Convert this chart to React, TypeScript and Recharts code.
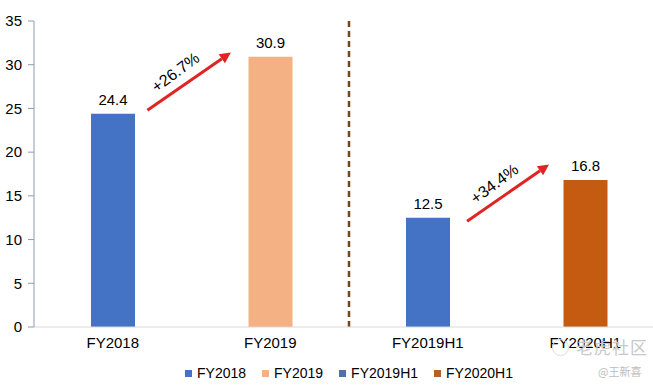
import React from 'react'
import { Bar, BarChart, Cell, LabelList, Legend, ReferenceLine, XAxis, YAxis } from 'recharts'

const categories = ['FY2018', 'FY2019', 'FY2019H1', 'FY2020H1']
const revenue = [24.4, 30.9, 12.5, 16.8]
const barColors = ['#4472C4', '#F4B183', '#4472C4', '#C55A11']
const legendColors = ['#4472C4', '#F4B183', '#4F6FAE', '#B0622B']
const yTicks = [0, 5, 10, 15, 20, 25, 30, 35]

// growth arrows: label, then start/end in (category slot, value)
const growthLabels = ['+26.7%', '+34.4%']
const growthFrom = [[0.72, 24.8], [2.75, 12.1]]
const growthTo = [[1.25, 31.4], [3.27, 18.6]]

// slot = middle of each category band on a 0..4 scale
const data = categories.map((name, i) => ({ name, value: revenue[i], slot: i + 0.5 }))

const FONT = '"Liberation Sans", Arial, sans-serif'

const arrowShape = (label: string) => (props: any) => {
  const { x1, y1, x2, y2 } = props
  const dx = x2 - x1
  const dy = y2 - y1
  const len = Math.sqrt(dx * dx + dy * dy)
  const ux = dx / len
  const uy = dy / len
  const px = uy
  const py = -ux
  const head = 11
  const half = 5.5
  const bx = x2 - ux * head
  const by = y2 - uy * head
  const angle = (Math.atan2(dy, dx) * 180) / Math.PI
  const mx = (x1 + x2) / 2 - ux * 6 + px * 14
  const my = (y1 + y2) / 2 - uy * 6 + py * 14
  return (
    <g>
      <line x1={x1} y1={y1} x2={bx} y2={by} stroke="#E02424" strokeWidth={3} />
      <polygon
        points={`${x2},${y2} ${bx + px * half},${by + py * half} ${bx - px * half},${by - py * half}`}
        fill="#E02424"
      />
      <text
        x={mx}
        y={my}
        textAnchor="middle"
        dominantBaseline="middle"
        fontSize={16}
        fontFamily={FONT}
        fill="#000"
        transform={`rotate(${angle - 2} ${mx} ${my})`}
      >
        {label}
      </text>
    </g>
  )
}

const LegendBox = () => (
  <div
    style={{
      width: 664,
      height: 26,
      paddingLeft: 34,
      boxSizing: 'border-box',
      display: 'flex',
      justifyContent: 'center',
      alignItems: 'center',
      fontFamily: FONT,
      fontSize: 14,
      color: '#000',
    }}
  >
    {categories.map((c, i) => (
      <div key={c} style={{ display: 'flex', alignItems: 'center', marginLeft: i === 0 ? 0 : 16 }}>
        <span style={{ width: 7, height: 7, background: legendColors[i], marginRight: 5, display: 'inline-block' }} />
        <span>{c}</span>
      </div>
    ))}
  </div>
)

const App = () => {
  return (
    <div style={{ position: 'absolute', left: 0, top: 0, width: 653, height: 386, overflow: 'hidden', background: '#fff' }}>
      <BarChart width={664} height={386} data={data} margin={{ top: 21, right: 0, left: 0, bottom: 0 }}>
        <XAxis
          dataKey="name"
          axisLine={{ stroke: '#D9D9D9' }}
          tickLine={false}
          tickSize={0}
          tickMargin={10}
          height={33}
          tick={{ fill: '#000', fontSize: 15, fontFamily: FONT }}
        />
        <XAxis xAxisId="num" dataKey="slot" type="number" domain={[0, 4]} hide allowDataOverflow />
        <YAxis
          width={34}
          domain={[0, 35]}
          ticks={yTicks}
          interval={0}
          axisLine={{ stroke: '#8C9BB0' }}
          tickLine={{ stroke: '#8C9BB0' }}
          tickSize={6}
          tickMargin={6}
          tick={{ fill: '#000', fontSize: 15, fontFamily: FONT }}
        />
        <Legend verticalAlign="bottom" height={26} content={() => <LegendBox />} />
        <ReferenceLine
          xAxisId="num"
          segment={[{ x: 2, y: 0 }, { x: 2, y: 35.4 }]}
          stroke="#74461C"
          strokeWidth={2.5}
          strokeDasharray="6 4"
          ifOverflow="visible"
        />
        <Bar dataKey="value" barSize={44} isAnimationActive={false}>
          {data.map((d, i) => (
            <Cell key={d.name} fill={barColors[i]} />
          ))}
          <LabelList dataKey="value" position="top" offset={9} fill="#000" fontSize={15} fontFamily={FONT} />
        </Bar>
        {growthLabels.map((g, i) => (
          <ReferenceLine
            key={g}
            xAxisId="num"
            segment={[
              { x: growthFrom[i][0], y: growthFrom[i][1] },
              { x: growthTo[i][0], y: growthTo[i][1] },
            ]}
            ifOverflow="visible"
            shape={arrowShape(g)}
          />
        ))}
      </BarChart>
      <div style={{ position: 'absolute', left: 552, top: 339, width: 17, height: 17, borderRadius: '50%', border: '1.5px solid #DDDDDD', boxSizing: 'border-box' }} />
      <div style={{ position: 'absolute', left: 576, top: 337, fontSize: 17, color: '#C8C8C8', fontFamily: '"Noto Sans CJK SC", sans-serif', letterSpacing: 1, lineHeight: '20px' }}>
        老虎社区
      </div>
      <div style={{ position: 'absolute', left: 598, top: 364, fontSize: 11, color: '#BDBDBD', fontFamily: '"Noto Sans CJK SC", sans-serif', lineHeight: '14px' }}>
        @王新喜
      </div>
    </div>
  )
}

export default App
